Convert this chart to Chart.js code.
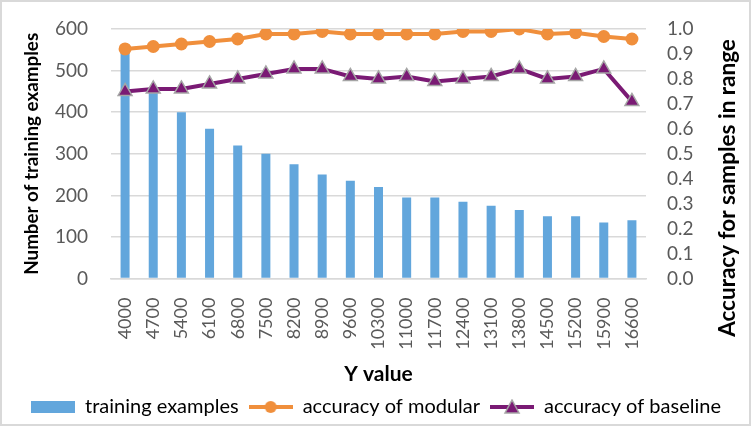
<!DOCTYPE html>
<html>
<head>
<meta charset="utf-8">
<script src="https://cdn.jsdelivr.net/npm/chart.js@4.4.1/dist/chart.umd.min.js"></script>
<style>
  html, body { margin: 0; padding: 0; background: #fff; }
  #wrap { width: 752px; height: 427px; }
</style>
</head>
<body>
<div id="wrap"><canvas id="chart" width="752" height="427"></canvas></div>
<script>
// categories and series
const yValues = ["4000", "4700", "5400", "6100", "6800", "7500", "8200", "8900", "9600", "10300",
  "11000", "11700", "12400", "13100", "13800", "14500", "15200", "15900", "16600"];
const trainingExamples = [550, 450, 400, 360, 320, 300, 275, 250, 235, 220,
  195, 195, 185, 175, 165, 150, 150, 135, 140];
const accModular = [0.92, 0.93, 0.94, 0.95, 0.96, 0.98, 0.98, 0.99, 0.98, 0.98,
  0.98, 0.98, 0.99, 0.99, 1.0, 0.98, 0.985, 0.97, 0.96];
const accBaseline = [0.75, 0.76, 0.76, 0.78, 0.80, 0.82, 0.84, 0.84, 0.81, 0.80,
  0.81, 0.79, 0.80, 0.81, 0.84, 0.80, 0.81, 0.84, 0.71];

const BLUE = "#62a6dc";
const ORANGE = "#f08f3c";
const PURPLE = "#7a1a74";
const GREY_TXT = "#595959";
const FONT = "Lato, 'Open Sans', sans-serif";

// little canvases used as legend symbols
function legendIcon(kind) {
  const c = document.createElement("canvas");
  c.width = 44; c.height = 16;
  const g = c.getContext("2d");
  if (kind === "bar") {
    g.fillStyle = BLUE;
    g.fillRect(0, 2, 44, 12);
  } else {
    g.strokeStyle = kind === "circle" ? ORANGE : PURPLE;
    g.lineWidth = 4;
    g.beginPath(); g.moveTo(0, 8); g.lineTo(44, 8); g.stroke();
    if (kind === "circle") {
      g.fillStyle = ORANGE;
      g.beginPath(); g.arc(22, 8, 6, 0, Math.PI * 2); g.fill();
    } else {
      g.fillStyle = PURPLE; g.strokeStyle = "#a5a5a5"; g.lineWidth = 1.5;
      g.beginPath(); g.moveTo(22, 1); g.lineTo(29, 14); g.lineTo(15, 14); g.closePath();
      g.fill(); g.stroke();
    }
  }
  return c;
}

// frame + rotated right title
const extras = {
  id: "extras",
  beforeDraw(chart) {
    const ctx = chart.ctx;
    ctx.save();
    ctx.fillStyle = "#fff";
    ctx.fillRect(0, 0, chart.width, chart.height);
    ctx.restore();
  },
  afterDraw(chart) {
    const ctx = chart.ctx;
    ctx.save();
    ctx.strokeStyle = "#d9d9d9";
    ctx.lineWidth = 2;
    ctx.strokeRect(1, 1, chart.width - 3, chart.height - 3);
    ctx.translate(728, 188);
    ctx.rotate(-Math.PI / 2);
    ctx.fillStyle = "#000";
    ctx.font = "bold 22.5px " + FONT;
    ctx.textAlign = "center";
    ctx.textBaseline = "middle";
    ctx.fillText("Accuracy for samples in range", 0, 0);
    ctx.restore();
  }
};

// fixed axis widths, no extra top/bottom padding from tick labels
const fixAxis = (w) => (scale) => {
  scale.width = w;
  scale.paddingTop = 0;
  scale.paddingBottom = 0;
};

const data = {
  labels: yValues,
  datasets: [
    {
      type: "line",
      label: "accuracy of modular",
      data: accModular,
      yAxisID: "y1",
      borderColor: ORANGE,
      backgroundColor: ORANGE,
      borderWidth: 4,
      pointStyle: "circle",
      pointRadius: 6.5,
      pointBorderWidth: 0,
      tension: 0,
      order: 1,
    },
    {
      type: "line",
      label: "accuracy of baseline",
      data: accBaseline,
      yAxisID: "y1",
      borderColor: PURPLE,
      backgroundColor: PURPLE,
      borderWidth: 4,
      pointStyle: "triangle",
      pointRadius: 8,
      pointBorderColor: "#a5a5a5",
      pointBorderWidth: 1.5,
      tension: 0,
      order: 2,
    },
    {
      type: "bar",
      label: "training examples",
      data: trainingExamples,
      yAxisID: "y",
      backgroundColor: BLUE,
      categoryPercentage: 1,
      barPercentage: 0.32,
      order: 3,
    },
  ],
};

const config = {
  data,
  options: {
    responsive: false,
    animation: false,
    maintainAspectRatio: false,
    layout: { padding: { left: 0, right: 0, top: 29, bottom: 0 } },
    scales: {
      x: {
        grid: { display: false },
        border: { color: "#d9d9d9", width: 1.5 },
        ticks: {
          color: GREY_TXT,
          font: { family: FONT, size: 18 },
          minRotation: 90,
          maxRotation: 90,
          padding: 11,
          autoSkip: false,
        },
        title: {
          display: true,
          text: "Y value",
          color: "#000",
          font: { family: FONT, size: 21, weight: "bold" },
          padding: { top: 1, bottom: 0 },
        },
      },
      y: {
        position: "left",
        min: 0,
        max: 600,
        afterFit: fixAxis(111),
        ticks: {
          stepSize: 100,
          color: GREY_TXT,
          font: { family: FONT, size: 19 },
          padding: 23,
        },
        grid: { color: "#d9d9d9", lineWidth: 1.5, drawTicks: false },
        border: { display: false },
        title: {
          display: true,
          text: "Number of training examples",
          color: "#000",
          font: { family: FONT, size: 18.8, weight: "bold" },
          padding: { top: 21, bottom: 0 },
        },
      },
      y1: {
        position: "right",
        min: 0,
        max: 1,
        afterFit: fixAxis(106),
        ticks: {
          stepSize: 0.1,
          autoSkip: false,
          color: GREY_TXT,
          font: { family: FONT, size: 19 },
          padding: 21,
          callback: (v) => v.toFixed(1),
        },
        grid: { display: false, drawTicks: false },
        border: { display: false },
      },
    },
    plugins: {
      tooltip: { enabled: false },
      legend: {
        display: true,
        position: "bottom",
        labels: {
          usePointStyle: true,
          pointStyleWidth: 44,
          padding: 10,
          color: "#000",
          font: { family: FONT, size: 20 },
          generateLabels: () => [
            { text: "training examples", pointStyle: legendIcon("bar"), datasetIndex: 2, fontColor: "#000", lineWidth: 0 },
            { text: "accuracy of modular", pointStyle: legendIcon("circle"), datasetIndex: 0, fontColor: "#000", lineWidth: 0 },
            { text: "accuracy of baseline", pointStyle: legendIcon("triangle"), datasetIndex: 1, fontColor: "#000", lineWidth: 0 },
          ],
        },
      },
    },
  },
  plugins: [extras],
};

const trainingChart = new Chart(document.getElementById("chart"), config);
</script>
</body>
</html>
